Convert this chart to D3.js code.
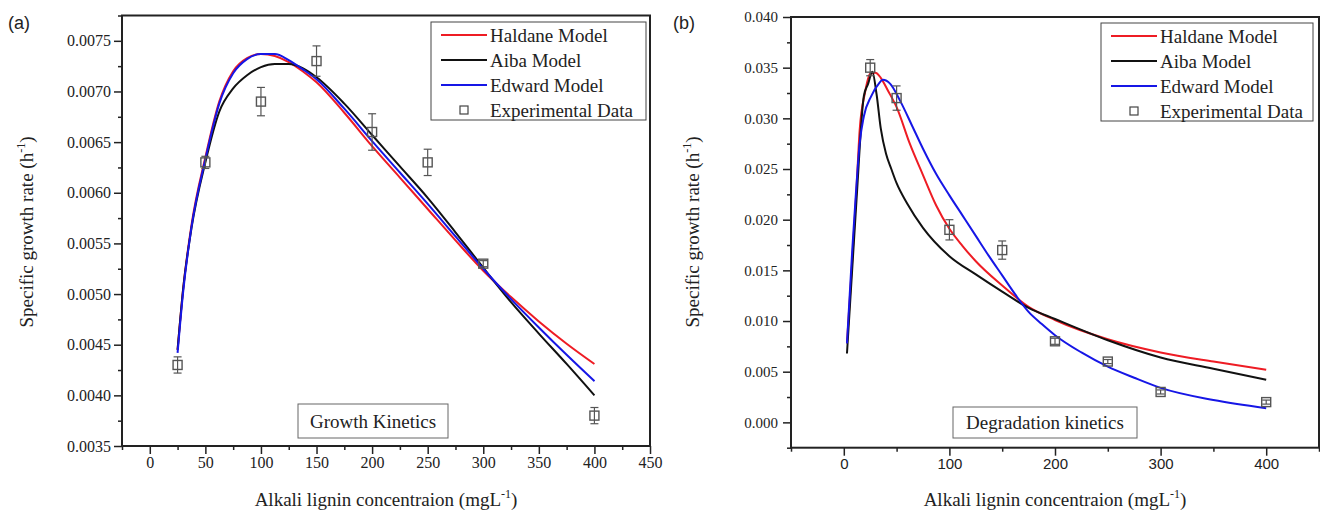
<!DOCTYPE html>
<html>
<head lang="en">
    <meta charset="UTF-8">
    <title></title>
    <style>
        body { margin: 0; background: #fff; }
    </style>
</head>
<body>
<svg width="1320" height="515"></svg>
<script src="https://cdn.jsdelivr.net/npm/d3@7"></script>
<script>
    // ---- panel (a) growth kinetics ----
    var growthExpX   = [25, 50, 100, 150, 200, 250, 300, 400];
    var growthExpY   = [0.0043, 0.0063, 0.0069, 0.0073, 0.0066, 0.0063, 0.0053, 0.0038];
    var growthExpErr = [0.00008, 0.00006, 0.00014, 0.00015, 0.00018, 0.00013, 0.00003, 0.00008];

    var growthModelX = [25, 30, 37.5, 50, 62.5, 75, 87.5, 100, 112.5, 125, 137.5, 150, 175, 200, 225, 250, 275, 300, 325, 350, 375, 400];
    var growthHaldane = [0.00445, 0.00505, 0.00568, 0.00635, 0.00690, 0.00720, 0.00733, 0.00737, 0.00735, 0.00729, 0.00720, 0.00709,
                         0.00679, 0.00646, 0.00615, 0.00584, 0.00553, 0.00523, 0.00497, 0.00473, 0.00451, 0.00431];
    var growthAiba    = [0.00445, 0.00505, 0.00565, 0.00630, 0.00680, 0.00703, 0.00716, 0.00724, 0.00727, 0.00727, 0.00723, 0.00714,
                         0.00688, 0.00657, 0.00626, 0.00595, 0.00561, 0.00526, 0.00492, 0.00461, 0.00431, 0.00400];
    var growthEdward  = [0.00442, 0.00502, 0.00566, 0.00633, 0.00688, 0.00718, 0.00732, 0.00737, 0.00737, 0.00731, 0.00722, 0.00712,
                         0.00683, 0.00651, 0.00620, 0.00589, 0.00557, 0.00525, 0.00495, 0.00467, 0.00440, 0.00414];

    // ---- panel (b) degradation kinetics ----
    var degExpX   = [25, 50, 100, 150, 200, 250, 300, 400];
    var degExpY   = [0.035, 0.032, 0.019, 0.017, 0.008, 0.006, 0.003, 0.002];
    var degExpErr = [0.0008, 0.0012, 0.001, 0.0009, 0.0003, 0.0002, 0.0002, 0.0002];

    var degHaldaneX = [3, 8, 12, 15, 20, 25, 30, 35, 42, 50, 62.5, 75, 87.5, 100, 112.5, 125, 150, 175, 200, 250, 300, 350, 400];
    var degHaldane  = [0.0078, 0.0160, 0.0230, 0.0288, 0.0325, 0.0344, 0.0345, 0.0340, 0.0327, 0.0311, 0.0275, 0.0244, 0.0214,
                       0.0191, 0.0174, 0.0159, 0.0135, 0.0114, 0.0101, 0.0082, 0.0069, 0.0060, 0.0052];
    var degAibaX = [3, 12, 19, 23, 27, 31, 35, 40, 45, 50, 60, 75, 100, 125, 150, 175, 200, 250, 300, 350, 400];
    var degAiba  = [0.0068, 0.0219, 0.0322, 0.0334, 0.0346, 0.0324, 0.0290, 0.0265, 0.0250, 0.0236, 0.0216, 0.0192, 0.0164,
                    0.0146, 0.0129, 0.0113, 0.0102, 0.0081, 0.0064, 0.0053, 0.0042];
    var degEdwardX = [3, 8, 11.4, 15, 19, 26, 33, 37, 44, 53, 65, 75, 87.5, 100, 112.5, 125, 137.5, 150, 162.5, 175, 187.5, 200,
                      225, 250, 275, 300, 350, 400];
    var degEdward  = [0.0078, 0.0170, 0.0225, 0.0275, 0.0302, 0.0322, 0.0334, 0.0338, 0.0334, 0.0318, 0.0292, 0.0270, 0.0245,
                      0.0224, 0.0204, 0.0184, 0.0164, 0.0145, 0.0126, 0.0109, 0.0097, 0.0086, 0.0069, 0.0055, 0.0044, 0.0034,
                      0.0022, 0.0014];

    var legendNames = ["Haldane Model", "Aiba Model", "Edward Model", "Experimental Data"];
    var modelColors = ["#ee1c24", "#111111", "#1616e6"];

    var SERIF = "'Liberation Serif', 'Times New Roman', serif";
    var SANS = "'Liberation Sans', Arial, sans-serif";

    var svg = d3.select("svg");

    function zip(xs, ys) {
        return xs.map(function (x, i) { return {x: x, y: ys[i]}; });
    }

    function panel(cfg) {
        var g = svg.append("g").attr("font-family", SERIF);
        var x = d3.scaleLinear().domain(cfg.xDomain).range([cfg.left, cfg.right]);
        var y = d3.scaleLinear().domain(cfg.yDomain).range([cfg.bottom, cfg.top]);

        // minor ticks
        g.append("g")
            .attr("transform", "translate(0," + cfg.bottom + ")")
            .call(d3.axisBottom(x).tickValues(cfg.xMinor).tickSize(4).tickFormat(""))
            .call(function (a) { a.select(".domain").remove(); });
        g.append("g")
            .attr("transform", "translate(" + cfg.left + ",0)")
            .call(d3.axisLeft(y).tickValues(cfg.yMinor).tickSize(4).tickFormat(""))
            .call(function (a) { a.select(".domain").remove(); });

        // major ticks
        var xa = g.append("g")
            .attr("transform", "translate(0," + cfg.bottom + ")")
            .call(d3.axisBottom(x).tickValues(cfg.xTicks).tickSize(8).tickPadding(3).tickFormat(d3.format("d")));
        xa.select(".domain").remove();
        xa.attr("font-family", cfg.xFont).attr("font-size", cfg.xFontSize);
        xa.selectAll("text").attr("fill", "#222");

        var ya = g.append("g")
            .attr("transform", "translate(" + cfg.left + ",0)")
            .call(d3.axisLeft(y).tickValues(cfg.yTicks).tickSize(8).tickPadding(cfg.yPad).tickFormat(d3.format(cfg.yFormat)));
        ya.select(".domain").remove();
        ya.attr("font-family", SERIF).attr("font-size", cfg.yFontSize);
        ya.selectAll("text").attr("fill", "#222");
        g.selectAll(".tick line").attr("stroke", "#222").attr("stroke-width", 1.5);

        // frame
        g.append("rect")
            .attr("x", cfg.left).attr("y", cfg.top)
            .attr("width", cfg.right - cfg.left).attr("height", cfg.bottom - cfg.top)
            .attr("fill", "none").attr("stroke", "#222").attr("stroke-width", 2);

        // model curves
        var line = d3.line()
            .x(function (d) { return x(d.x); })
            .y(function (d) { return y(d.y); })
            .curve(d3.curveMonotoneX);
        cfg.models.forEach(function (m, i) {
            g.append("path")
                .attr("d", line(m))
                .attr("fill", "none")
                .attr("stroke", modelColors[i])
                .attr("stroke-width", 2);
        });

        // experimental data with error bars
        var pts = cfg.expX.map(function (v, i) { return {x: v, y: cfg.expY[i], e: cfg.expErr[i]}; });
        var eb = g.append("g").attr("stroke", "#555").attr("stroke-width", 1.2).attr("fill", "none");
        pts.forEach(function (p) {
            var px = x(p.x), y0 = y(p.y - p.e), y1 = y(p.y + p.e);
            eb.append("line").attr("x1", px).attr("x2", px).attr("y1", y0).attr("y2", y1);
            eb.append("line").attr("x1", px - 4).attr("x2", px + 4).attr("y1", y0).attr("y2", y0);
            eb.append("line").attr("x1", px - 4).attr("x2", px + 4).attr("y1", y1).attr("y2", y1);
            eb.append("rect").attr("x", px - 4.5).attr("y", y(p.y) - 4.5).attr("width", 9).attr("height", 9)
                .attr("stroke-width", 1.4);
        });

        // legend
        var lg = g.append("g").attr("transform", "translate(" + cfg.legX + "," + cfg.legY + ")");
        lg.append("rect").attr("width", cfg.legW).attr("height", 98)
            .attr("fill", "#fff").attr("stroke", "#444").attr("stroke-width", 1);
        legendNames.forEach(function (name, i) {
            var cy = 13 + i * 25;
            if (i < 3) {
                lg.append("line").attr("x1", 10).attr("x2", 56).attr("y1", cy).attr("y2", cy)
                    .attr("stroke", modelColors[i]).attr("stroke-width", 2);
            } else {
                lg.append("rect").attr("x", 29).attr("y", cy - 4).attr("width", 8).attr("height", 8)
                    .attr("fill", "none").attr("stroke", "#444").attr("stroke-width", 1.2);
            }
            lg.append("text").attr("x", 59).attr("y", cy + 6.5)
                .attr("font-size", 19).attr("fill", "#222").text(name);
        });

        // inner caption box
        g.append("rect").attr("x", cfg.capBox[0]).attr("y", cfg.capBox[1])
            .attr("width", cfg.capBox[2]).attr("height", cfg.capBox[3])
            .attr("fill", "#fff").attr("stroke", "#666").attr("stroke-width", 1);
        g.append("text")
            .attr("x", cfg.capBox[0] + cfg.capBox[2] / 2).attr("y", cfg.capBox[1] + cfg.capBox[3] / 2 + 6.5)
            .attr("text-anchor", "middle").attr("font-size", 19).attr("fill", "#222").text(cfg.caption);

        // axis titles
        var xt = g.append("text")
            .attr("x", (cfg.left + cfg.right) / 2).attr("y", 506)
            .attr("text-anchor", "middle").attr("font-size", 19).attr("fill", "#222");
        xt.append("tspan").text("Alkali lignin concentraion (mgL");
        xt.append("tspan").attr("dy", -8).attr("font-size", 12).text("-1");
        xt.append("tspan").attr("dy", 8).text(")");

        var yt = g.append("text")
            .attr("transform", "translate(" + cfg.yTitleX + ",232) rotate(-90)")
            .attr("text-anchor", "middle").attr("font-size", 19).attr("fill", "#222");
        yt.append("tspan").text("Specific growth rate (h");
        yt.append("tspan").attr("dy", -8).attr("font-size", 12).text("-1");
        yt.append("tspan").attr("dy", 8).text(")");

        g.append("text").attr("x", cfg.labelX).attr("y", 29)
            .attr("font-family", SANS).attr("font-size", 18).attr("fill", "#222")
            .text(cfg.label);
    }

    panel({
        left: 122, right: 650, top: 15.5, bottom: 446,
        xDomain: [-25, 450], yDomain: [0.0035, 0.00775],
        xTicks: d3.range(0, 451, 50), xMinor: d3.range(-25, 450, 50),
        yTicks: d3.range(0, 9).map(function (i) { return 0.0035 + i * 0.0005; }),
        yMinor: d3.range(0, 9).map(function (i) { return 0.00375 + i * 0.0005; }),
        yFormat: ".4f", yPad: 3, yFontSize: 16,
        xFont: SERIF, xFontSize: 16,
        models: [zip(growthModelX, growthHaldane), zip(growthModelX, growthAiba), zip(growthModelX, growthEdward)],
        expX: growthExpX, expY: growthExpY, expErr: growthExpErr,
        legX: 431, legY: 22, legW: 215,
        capBox: [298, 404, 150, 34], caption: "Growth Kinetics",
        yTitleX: 33, labelX: 8, label: "(a)"
    });

    panel({
        left: 791, right: 1319, top: 17, bottom: 447.7,
        xDomain: [-50, 450], yDomain: [-0.0025, 0.040],
        xTicks: d3.range(0, 401, 100), xMinor: d3.range(-50, 451, 100),
        yTicks: d3.range(0, 9).map(function (i) { return i * 0.005; }),
        yMinor: d3.range(0, 9).map(function (i) { return -0.0025 + i * 0.005; }),
        yFormat: ".3f", yPad: 5, yFontSize: 15,
        xFont: SANS, xFontSize: 15,
        models: [zip(degHaldaneX, degHaldane), zip(degAibaX, degAiba), zip(degEdwardX, degEdward)],
        expX: degExpX, expY: degExpY, expErr: degExpErr,
        legX: 1101, legY: 23, legW: 212,
        capBox: [953, 407, 184, 31], caption: "Degradation kinetics",
        yTitleX: 699, labelX: 673, label: "(b)"
    });
</script>
</body>
</html>
